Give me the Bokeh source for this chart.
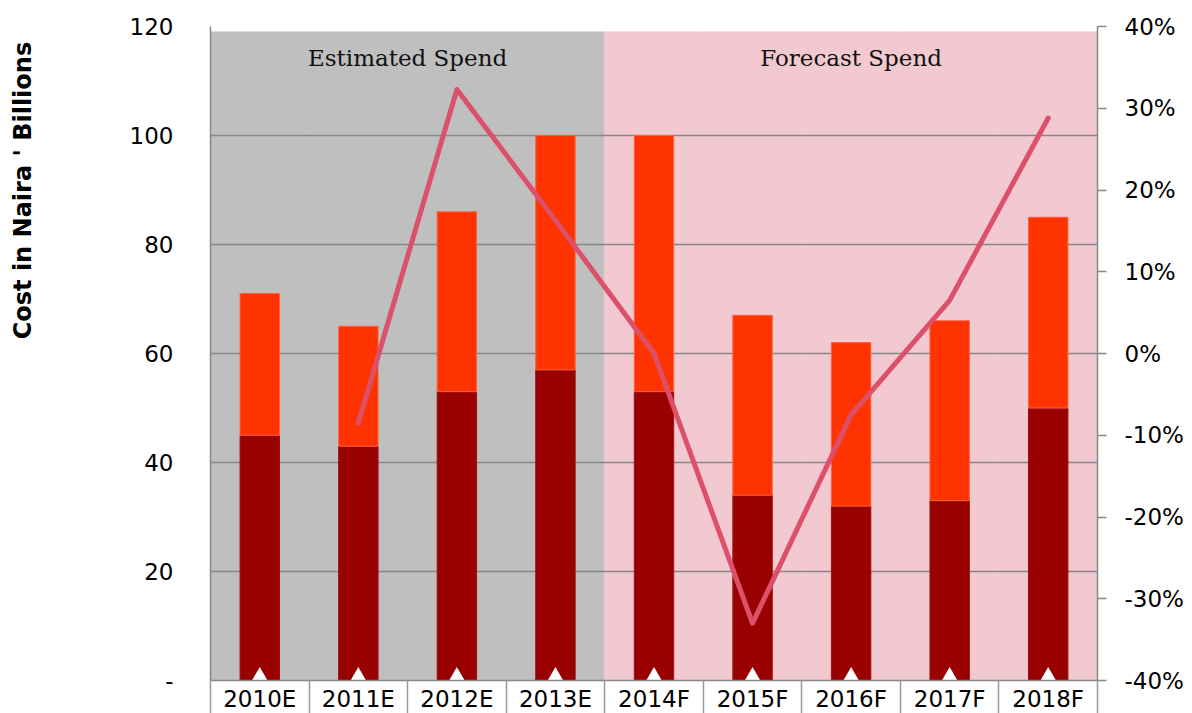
import math
from bokeh.plotting import figure
from bokeh.models import (Range1d, LinearAxis, FixedTicker, PrintfTickFormatter, Label)
from bokeh.embed import file_html
from bokeh.resources import INLINE

# ---- data ----
categories = ["2010E", "2011E", "2012E", "2013E", "2014F", "2015F", "2016F", "2017F", "2018F"]
base_spend = [45, 43, 53, 57, 53, 34, 32, 33, 50]       # dark red segment
total_spend = [71, 65, 86, 100, 100, 67, 62, 66, 85]    # top of bright segment
growth_pct = [float("nan"), -8.5, 32.3, 16.3, 0.0, -33.0, -7.5, 6.5, 28.8]
period = ["est", "est", "est", "est", "fc", "fc", "fc", "fc", "fc"]
left_ticks = [0, 20, 40, 60, 80, 100, 120]
right_ticks = [-40, -30, -20, -10, 0, 10, 20, 30, 40]
y_title = "Cost in Naira ' Billions"

n = len(categories)
xs = [i + 0.5 for i in range(n)]
n_est = period.count("est")

GRID = "#878787"
TICK_FONT = "DejaVu Sans"

p = figure(frame_width=887, frame_height=654, output_backend="svg", toolbar_location=None,
           x_range=Range1d(0, n), y_range=Range1d(0, 120),
           min_border_left=210, min_border_right=95, min_border_top=26, min_border_bottom=33,
           background_fill_color="white", border_fill_color="white", outline_line_color=None)
p.extra_y_ranges = {"pct": Range1d(-40, 40)}

# background bands
band_colors = ["#BFBFBF" if s == "est" else "#F3C9D1" for s in period]
bands = p.vbar(x=xs, top=[119] * n, width=1.0, fill_color=band_colors, line_color=band_colors,
               line_width=1)
bands.level = "image"

# bars
p.vbar(x=xs, bottom=0, top=base_spend, width=0.4, fill_color="#990000", line_color="#A01010", line_width=1)
p.vbar(x=xs, bottom=base_spend, top=total_spend, width=0.4, fill_color="#FF3300", line_color="#FF6040", line_width=1)

# white markers at base
p.scatter(x=xs, y=[0.9] * n, marker="triangle", size=15, fill_color="white", line_color=None)

# growth line
p.line(x=xs, y=growth_pct, y_range_name="pct", line_color="#DC5069", line_width=5,
       line_cap="round", line_join="round")

# grid
p.xgrid.visible = False
p.ygrid.ticker = FixedTicker(ticks=left_ticks)
p.ygrid.grid_line_color = GRID
p.ygrid.grid_line_width = 1.5

# x axis
xa = p.xaxis[0]
xa.ticker = FixedTicker(ticks=xs, minor_ticks=list(range(n + 1)))
xa.major_label_overrides = {x: c for x, c in zip(xs, categories)}
xa.major_tick_out = 0
xa.major_tick_in = 0
xa.minor_tick_out = 33
xa.minor_tick_in = 0
xa.minor_tick_line_color = "#9A9A9A"
xa.minor_tick_line_width = 1.5
xa.axis_line_color = GRID
xa.axis_line_width = 1.5
xa.major_label_standoff = -28
xa.major_label_text_font = TICK_FONT
xa.major_label_text_font_size = "23px"
xa.major_label_text_color = "black"

# left axis
ya = p.yaxis[0]
ya.ticker = FixedTicker(ticks=left_ticks)
ya.major_label_overrides = {0: "-"}
ya.major_tick_out = 0
ya.major_tick_in = 0
ya.minor_tick_out = 0
ya.minor_tick_in = 0
ya.axis_line_color = GRID
ya.axis_line_width = 1.5
ya.major_label_standoff = 37
ya.major_label_text_font = TICK_FONT
ya.major_label_text_font_size = "23px"
ya.major_label_text_color = "black"
# axis title, shifted toward the top with leading no-break spaces
ya.axis_label = "\u00a0" * 39 + y_title
ya.axis_label_standoff = 90
ya.axis_label_text_font = TICK_FONT
ya.axis_label_text_font_style = "bold"
ya.axis_label_text_font_size = "24px"
ya.axis_label_text_color = "black"

# right axis
ra = LinearAxis(y_range_name="pct", ticker=FixedTicker(ticks=right_ticks),
                formatter=PrintfTickFormatter(format="%d%%"))
ra.major_tick_out = 9
ra.major_tick_in = 0
ra.minor_tick_out = 0
ra.minor_tick_in = 0
ra.major_tick_line_color = GRID
ra.major_tick_line_width = 1.5
ra.axis_line_color = GRID
ra.axis_line_width = 1.5
ra.major_label_standoff = 18
ra.major_label_text_font = TICK_FONT
ra.major_label_text_font_size = "23px"
ra.major_label_text_color = "black"
p.add_layout(ra, "right")

# period headings
p.add_layout(Label(x=n_est / 2, y=114.3, text="Estimated Spend", text_align="center",
                   text_baseline="middle", text_font="DejaVu Serif", text_font_size="23px",
                   text_color="#111111"))
p.add_layout(Label(x=(n_est + n) / 2, y=114.3, text="Forecast Spend", text_align="center",
                   text_baseline="middle", text_font="DejaVu Serif", text_font_size="23px",
                   text_color="#111111"))

open("out.html", "w").write(file_html(p, INLINE))
